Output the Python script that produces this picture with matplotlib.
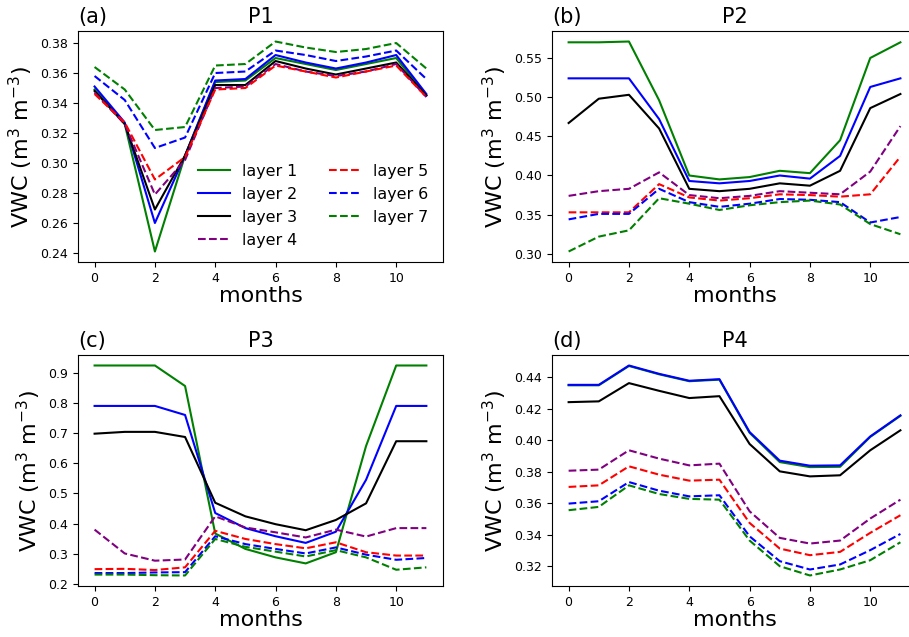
import matplotlib
matplotlib.use('Agg')
import matplotlib.pyplot as plt
import numpy as np

months = np.arange(12)

layers = ['layer 1', 'layer 2', 'layer 3', 'layer 4', 'layer 5', 'layer 6', 'layer 7']
colors = ['green', 'blue', 'black', 'purple', 'red', 'blue', 'green']
styles = ['-', '-', '-', '--', '--', '--', '--']

# P1
p1_l1 = [0.349, 0.326, 0.241, 0.305, 0.354, 0.355, 0.370, 0.366, 0.362, 0.366, 0.370, 0.345]
p1_l2 = [0.351, 0.327, 0.260, 0.305, 0.355, 0.356, 0.372, 0.367, 0.363, 0.367, 0.372, 0.346]
p1_l3 = [0.348, 0.326, 0.269, 0.305, 0.352, 0.352, 0.368, 0.363, 0.359, 0.363, 0.367, 0.345]
p1_l4 = [0.347, 0.326, 0.279, 0.302, 0.350, 0.351, 0.366, 0.361, 0.358, 0.361, 0.366, 0.344]
p1_l5 = [0.346, 0.327, 0.289, 0.304, 0.349, 0.350, 0.365, 0.361, 0.357, 0.361, 0.365, 0.344]
p1_l6 = [0.358, 0.342, 0.310, 0.317, 0.360, 0.361, 0.375, 0.372, 0.368, 0.371, 0.375, 0.356]
p1_l7 = [0.364, 0.349, 0.322, 0.324, 0.365, 0.366, 0.381, 0.377, 0.374, 0.376, 0.380, 0.363]

# P2
p2_l1 = [0.570, 0.570, 0.571, 0.496, 0.400, 0.395, 0.398, 0.406, 0.403, 0.445, 0.550, 0.570]
p2_l2 = [0.524, 0.524, 0.524, 0.472, 0.393, 0.390, 0.393, 0.400, 0.396, 0.425, 0.513, 0.524]
p2_l3 = [0.467, 0.498, 0.503, 0.460, 0.383, 0.380, 0.383, 0.390, 0.387, 0.406, 0.486, 0.504]
p2_l4 = [0.374, 0.380, 0.383, 0.404, 0.375, 0.371, 0.374, 0.380, 0.378, 0.376, 0.405, 0.463]
p2_l5 = [0.353, 0.353, 0.353, 0.389, 0.372, 0.368, 0.371, 0.376, 0.375, 0.373, 0.376, 0.424]
p2_l6 = [0.344, 0.351, 0.351, 0.383, 0.366, 0.360, 0.364, 0.370, 0.369, 0.366, 0.340, 0.347]
p2_l7 = [0.303, 0.322, 0.330, 0.371, 0.364, 0.356, 0.362, 0.366, 0.368, 0.363, 0.338, 0.325]

# P3
p3_l1 = [0.924, 0.924, 0.924, 0.856, 0.367, 0.316, 0.288, 0.268, 0.305, 0.657, 0.924, 0.924]
p3_l2 = [0.790, 0.790, 0.790, 0.760, 0.435, 0.385, 0.358, 0.336, 0.373, 0.545, 0.790, 0.790]
p3_l3 = [0.698, 0.704, 0.704, 0.687, 0.469, 0.424, 0.398, 0.378, 0.412, 0.467, 0.673, 0.673]
p3_l4 = [0.380, 0.301, 0.277, 0.281, 0.424, 0.387, 0.371, 0.354, 0.380, 0.357, 0.385, 0.385]
p3_l5 = [0.249, 0.250, 0.246, 0.255, 0.376, 0.349, 0.332, 0.318, 0.338, 0.305, 0.294, 0.294]
p3_l6 = [0.236, 0.236, 0.238, 0.239, 0.358, 0.332, 0.316, 0.301, 0.321, 0.297, 0.280, 0.286]
p3_l7 = [0.231, 0.231, 0.229, 0.228, 0.349, 0.323, 0.307, 0.291, 0.312, 0.288, 0.247, 0.255]

# P4
p4_l1 = [0.4350, 0.4350, 0.4473, 0.4420, 0.4376, 0.4386, 0.4048, 0.3862, 0.3830, 0.3832, 0.4022, 0.4156]
p4_l2 = [0.4353, 0.4353, 0.4476, 0.4423, 0.4379, 0.4389, 0.4053, 0.3871, 0.3839, 0.3841, 0.4025, 0.4159]
p4_l3 = [0.4243, 0.4248, 0.4364, 0.4315, 0.4269, 0.4281, 0.3977, 0.3803, 0.3771, 0.3778, 0.3937, 0.4064]
p4_l4 = [0.3807, 0.3814, 0.3937, 0.3884, 0.3841, 0.3852, 0.3549, 0.3380, 0.3344, 0.3363, 0.3503, 0.3623]
p4_l5 = [0.3704, 0.3714, 0.3835, 0.3782, 0.3744, 0.3750, 0.3475, 0.3312, 0.3270, 0.3291, 0.3412, 0.3524]
p4_l6 = [0.3598, 0.3613, 0.3735, 0.3680, 0.3644, 0.3651, 0.3390, 0.3232, 0.3179, 0.3211, 0.3302, 0.3405]
p4_l7 = [0.3556, 0.3577, 0.3714, 0.3659, 0.3628, 0.3623, 0.3363, 0.3200, 0.3141, 0.3179, 0.3238, 0.3352]

panels = [
    ('(a)', 'P1', [p1_l1, p1_l2, p1_l3, p1_l4, p1_l5, p1_l6, p1_l7]),
    ('(b)', 'P2', [p2_l1, p2_l2, p2_l3, p2_l4, p2_l5, p2_l6, p2_l7]),
    ('(c)', 'P3', [p3_l1, p3_l2, p3_l3, p3_l4, p3_l5, p3_l6, p3_l7]),
    ('(d)', 'P4', [p4_l1, p4_l2, p4_l3, p4_l4, p4_l5, p4_l6, p4_l7]),
]

# axes boxes in figure fractions; right column runs past the figure edge (cropped look)
boxes = [
    [0.0858, 0.5887, 0.4015, 0.3626],
    [0.6073, 0.5887, 0.4015, 0.3626],
    [0.0858, 0.0801, 0.4015, 0.3626],
    [0.6073, 0.0801, 0.4015, 0.3626],
]

fig = plt.figure(figsize=(9.09, 6.37), dpi=100)

for i, (tag, name, data) in enumerate(panels):
    ax = fig.add_axes(boxes[i])
    for j in range(7):
        ax.plot(months, data[j], color=colors[j], linestyle=styles[j], lw=1.5, label=layers[j])
    ax.set_title(name, fontsize=15)
    ax.set_title(tag, loc='left', fontsize=15)
    ax.set_xlabel('months', fontsize=16, labelpad=1)
    ax.set_ylabel('VWC (m$^3$ m$^{-3}$)', fontsize=16, labelpad=4)
    ax.tick_params(labelsize=9)
    ax.set_xticks([0, 2, 4, 6, 8, 10])
    if i == 0:
        ax.legend(ncol=2, loc='lower right', frameon=False, fontsize=11.4)

fig.savefig('out.png', dpi=100)
